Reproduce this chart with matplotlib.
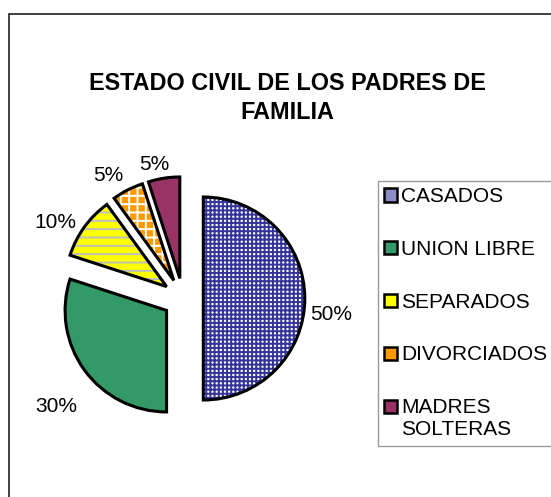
import numpy as np
import matplotlib
matplotlib.use("Agg")
import matplotlib.pyplot as plt
from matplotlib.patches import Patch, Rectangle
from matplotlib.legend_handler import HandlerPatch

plt.rcParams['font.family'] = ['Liberation Sans', 'DejaVu Sans']
plt.rcParams['hatch.linewidth'] = 1.4

# ---- data ----
title = "ESTADO CIVIL DE LOS PADRES DE\nFAMILIA"
categories = ["CASADOS", "UNION LIBRE", "SEPARADOS", "DIVORCIADOS", "MADRES\nSOLTERAS"]
values = [50, 30, 10, 5, 5]

# ---- style ----
face_colors = ["#FFFFFF", "#339966", "#FFFF00", "#FF9900", "#993366"]
hatch_colors = ["#333399", "#339966", "#BEBEBE", "#FFFFFF", "#993366"]
hatches = ["++++", None, "--", "++", None]
legend_colors = ["#8C8CC6", "#339966", "#FFFF00", "#FF9900", "#993366"]
explode = [0.2] * 5
label_dist = [1.27, 1.44, 1.26, 1.22, 1.15]
label_ang_off = [-7, 5, 6, 5, 3.5]

W, H = 551, 497
fig = plt.figure(figsize=(W / 100, H / 100), dpi=100)

# outer frame
fig.patches.append(Rectangle((9 / W, -0.2), 2.0, 1.2 - 14 / H, transform=fig.transFigure,
                             fill=False, edgecolor="#202020", linewidth=1.2, clip_on=False))

cx, cy, r = 183, 497 - 298.5, 101.5
half = 1.6
ax = fig.add_axes([(cx - half * r) / W, (cy - half * r) / H, 2 * half * r / W, 2 * half * r / H])

wedges, _ = ax.pie(values, explode=explode, startangle=90, counterclock=False,
                   colors=face_colors, wedgeprops=dict(linewidth=0))
for w, hc, h in zip(wedges, hatch_colors, hatches):
    w.set_edgecolor(hc)
    if h:
        w.set_hatch(h)

outlines, _ = ax.pie(values, explode=explode, startangle=90, counterclock=False,
                     wedgeprops=dict(facecolor="none", edgecolor="black", linewidth=2.2))

total = sum(values)
for w, v, d, off, ex in zip(wedges, values, label_dist, label_ang_off, explode):
    mid = np.deg2rad((w.theta1 + w.theta2) / 2)
    sx, sy = ex * np.cos(mid), ex * np.sin(mid)
    a = mid + np.deg2rad(off)
    ax.text(sx + d * np.cos(a), sy + d * np.sin(a), f"{v / total * 100:.0f}%",
            ha="center", va="center", fontsize=15)

ax.set_xlim(-half, half)
ax.set_ylim(-half, half)
ax.set_aspect("auto")
ax.axis("off")

fig.text(287 / W, 1 - 98 / H, title, ha="center", va="center", fontsize=16.8,
         fontweight="bold", linespacing=1.38)


def make_handler(shift):
    def patch_func(legend, orig_handle, xdescent, ydescent, width, height, fontsize):
        return Rectangle((-xdescent, -ydescent + shift), width, height)
    return HandlerPatch(patch_func=patch_func)


handles = [Patch(facecolor=c, edgecolor="black", linewidth=1.8) for c in legend_colors]
handler_map = {h: make_handler(9.0 if "\n" in lab else 0.0) for h, lab in zip(handles, categories)}
leg = fig.legend(handles, categories, loc="upper left", bbox_to_anchor=(378 / W, 1 - 181 / H),
                 fontsize=15, frameon=True, fancybox=False, shadow=False,
                 handlelength=0.6, handleheight=0.6, handletextpad=0.2,
                 labelspacing=1.62, borderpad=0.3, borderaxespad=0, handler_map=handler_map)
leg.get_frame().set_edgecolor("#808080")
leg.get_frame().set_linewidth(1.0)

fig.savefig("out.png", dpi=100)
